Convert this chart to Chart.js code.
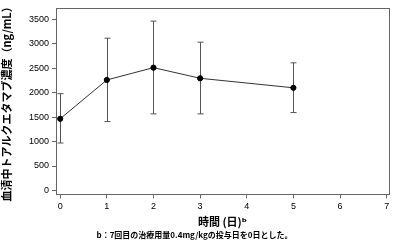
<!DOCTYPE html>
<html>
<head>
<meta charset="utf-8">
<script src="https://cdn.jsdelivr.net/npm/chart.js@4.4.0/dist/chart.umd.min.js"></script>
<style>
  html, body { margin: 0; padding: 0; background: #fff; }
  #wrap { width: 395px; height: 243px; }
</style>
</head>
<body>
<div id="wrap"><canvas id="pk_chart" width="395" height="243"></canvas></div>
<script>
// days after the 7th dose
var days = [0, 1, 2, 3, 5];
var mean_conc = [1465, 2258, 2510, 2292, 2098];
var lower_conc = [970, 1408, 1565, 1565, 1592];
var upper_conc = [1978, 3112, 3460, 3030, 2608];
var x_ticks = [0, 1, 2, 3, 4, 5, 6, 7];
var y_ticks = [0, 500, 1000, 1500, 2000, 2500, 3000, 3500];

var jpFont = "'Noto Sans CJK JP', 'DejaVu Sans', sans-serif";

// error bars + full frame around the plot area
var errorBars = {
  id: "errorBars",
  beforeDatasetsDraw: function (chart) {
    var ctx = chart.ctx;
    var xs = chart.scales.x, ys = chart.scales.y;
    ctx.save();
    ctx.strokeStyle = "#555";
    ctx.lineWidth = 1;
    for (var i = 0; i < days.length; i++) {
      var px = Math.round(xs.getPixelForValue(days[i])) + 0.5;
      var top = ys.getPixelForValue(upper_conc[i]);
      var bot = ys.getPixelForValue(lower_conc[i]);
      ctx.beginPath();
      ctx.moveTo(px, top); ctx.lineTo(px, bot);
      ctx.moveTo(px - 3, top); ctx.lineTo(px + 3, top);
      ctx.moveTo(px - 3, bot); ctx.lineTo(px + 3, bot);
      ctx.stroke();
    }
    ctx.restore();
  },
  afterDraw: function (chart) {
    var a = chart.chartArea, ctx = chart.ctx;
    ctx.save();
    ctx.strokeStyle = "#666";
    ctx.lineWidth = 1;
    ctx.strokeRect(Math.round(a.left) + 0.5, Math.round(a.top) + 0.5,
      Math.round(a.right - a.left), Math.round(a.bottom - a.top));
    ctx.restore();
  }
};

new Chart(document.getElementById("pk_chart"), {
  type: "line",
  data: {
    datasets: [
      {
        label: "mean",
        data: days.map(function (d, i) { return { x: d, y: mean_conc[i] }; }),
        borderColor: "#333",
        borderWidth: 1,
        backgroundColor: "#000",
        pointRadius: 2.6,
        pointBackgroundColor: "#000",
        pointBorderColor: "#000",
        tension: 0
      }
    ]
  },
  options: {
    responsive: false,
    animation: false,
    devicePixelRatio: 1,
    layout: { padding: { top: 8, right: 6, left: 0, bottom: 1 } },
    plugins: {
      legend: { display: false },
      tooltip: { enabled: false },
      title: {
        display: true,
        position: "bottom",
        text: "b：7回目の治療用量0.4mg/kgの投与日を0日とした。",
        color: "#000",
        font: { family: jpFont, size: 8, weight: "bold" },
        padding: { top: 2, bottom: 2 }
      }
    },
    scales: {
      x: {
        type: "linear",
        min: -0.09,
        max: 7.05,
        afterBuildTicks: function (s) { s.ticks = x_ticks.map(function (v) { return { value: v }; }); },
        grid: { drawOnChartArea: false, tickLength: 4, color: "#666" },
        border: { color: "#666" },
        ticks: { color: "#000", padding: 3, font: { family: "'Liberation Sans', sans-serif", size: 9 } },
        title: {
          display: true,
          text: "時間 (日)ᵇ",
          color: "#000",
          font: { family: jpFont, size: 11, weight: "bold" },
          padding: { top: 0, bottom: 0 }
        }
      },
      y: {
        min: -80,
        max: 3720,
        afterBuildTicks: function (s) { s.ticks = y_ticks.map(function (v) { return { value: v }; }); },
        afterFit: function (s) { s.width = 56; },
        grid: { drawOnChartArea: false, tickLength: 4, color: "#666" },
        border: { color: "#666" },
        ticks: {
          color: "#000", padding: 3,
          font: { family: "'Liberation Sans', sans-serif", size: 9 },
          callback: function (v) { return String(v); }
        },
        title: {
          display: true,
          text: "血清中トアルクエタマブ濃度（ng/mL）",
          color: "#000",
          font: { family: jpFont, size: 11, weight: "bold" },
          padding: { top: 0, bottom: 1 }
        }
      }
    }
  },
  plugins: [errorBars]
});
</script>
</body>
</html>
